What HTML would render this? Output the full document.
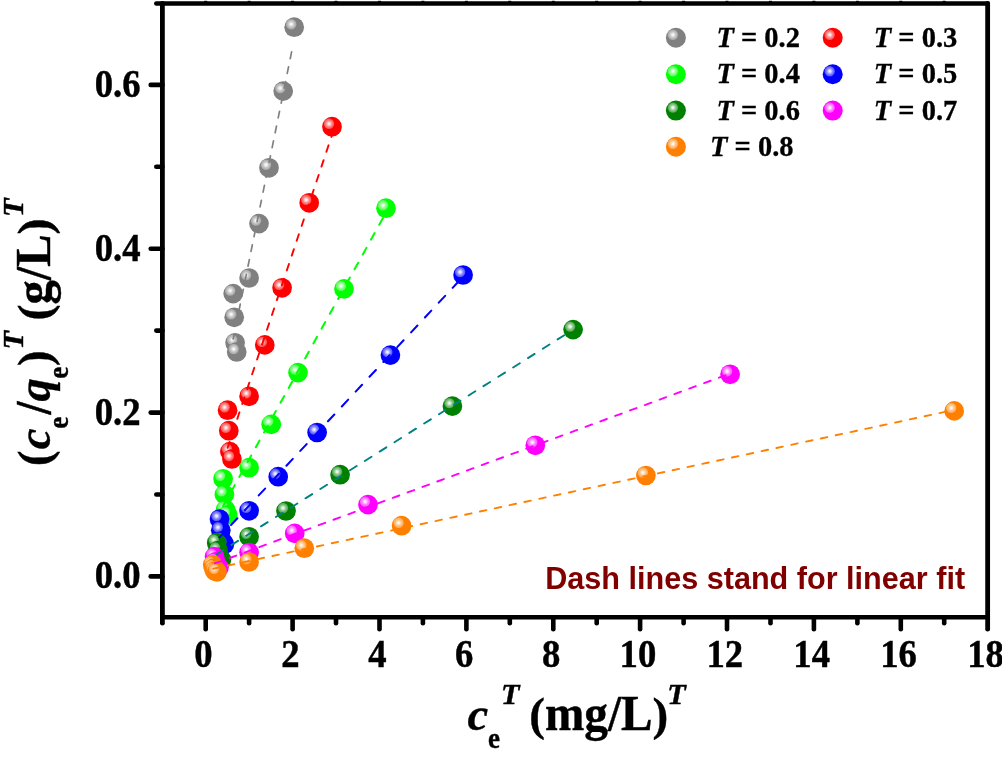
<!DOCTYPE html>
<html lang="en"><head><meta charset="utf-8"><title>Linear fit plot</title>
<style>html,body{margin:0;padding:0;background:#fff;}body{width:1002px;height:757px;overflow:hidden;}svg{display:block;}text{font-family:"Liberation Serif",serif;font-weight:bold;fill:#000;}.it{font-style:italic;}.note{font-family:"Liberation Sans",sans-serif;font-weight:bold;fill:#800000;}</style>
</head><body>
<svg width="1002" height="757" viewBox="0 0 1002 757">
<defs><radialGradient id="hl" cx="0.5" cy="0.5" r="0.5"><stop offset="0" stop-color="#fff" stop-opacity="1"/><stop offset="0.18" stop-color="#fff" stop-opacity="0.9"/><stop offset="0.6" stop-color="#fff" stop-opacity="0.52"/><stop offset="1" stop-color="#fff" stop-opacity="0.30"/></radialGradient></defs>
<rect x="0" y="0" width="1002" height="757" fill="#fff"/>
<g id="pts">
<circle cx="294.2" cy="27.2" r="9.85" fill="#808080"/><circle cx="291.2" cy="24.2" r="5.2" fill="url(#hl)"/>
<circle cx="283.2" cy="91.1" r="9.85" fill="#808080"/><circle cx="280.2" cy="88.1" r="5.2" fill="url(#hl)"/>
<circle cx="269.0" cy="167.8" r="9.85" fill="#808080"/><circle cx="266.0" cy="164.8" r="5.2" fill="url(#hl)"/>
<circle cx="259.0" cy="223.6" r="9.85" fill="#808080"/><circle cx="256.0" cy="220.6" r="5.2" fill="url(#hl)"/>
<circle cx="249.1" cy="278.0" r="9.85" fill="#808080"/><circle cx="246.1" cy="275.0" r="5.2" fill="url(#hl)"/>
<circle cx="233.2" cy="293.6" r="9.85" fill="#808080"/><circle cx="230.2" cy="290.6" r="5.2" fill="url(#hl)"/>
<circle cx="234.2" cy="317.3" r="9.85" fill="#808080"/><circle cx="231.2" cy="314.3" r="5.2" fill="url(#hl)"/>
<circle cx="235.1" cy="342.8" r="9.85" fill="#808080"/><circle cx="232.1" cy="339.8" r="5.2" fill="url(#hl)"/>
<circle cx="236.7" cy="352.0" r="9.85" fill="#808080"/><circle cx="233.7" cy="349.0" r="5.2" fill="url(#hl)"/>
<circle cx="332.0" cy="126.7" r="9.85" fill="#ff0000"/><circle cx="329.0" cy="123.7" r="5.2" fill="url(#hl)"/>
<circle cx="309.2" cy="202.8" r="9.85" fill="#ff0000"/><circle cx="306.2" cy="199.8" r="5.2" fill="url(#hl)"/>
<circle cx="282.1" cy="287.8" r="9.85" fill="#ff0000"/><circle cx="279.1" cy="284.8" r="5.2" fill="url(#hl)"/>
<circle cx="264.8" cy="344.9" r="9.85" fill="#ff0000"/><circle cx="261.8" cy="341.9" r="5.2" fill="url(#hl)"/>
<circle cx="249.1" cy="396.3" r="9.85" fill="#ff0000"/><circle cx="246.1" cy="393.3" r="5.2" fill="url(#hl)"/>
<circle cx="227.6" cy="410.2" r="9.85" fill="#ff0000"/><circle cx="224.6" cy="407.2" r="5.2" fill="url(#hl)"/>
<circle cx="228.8" cy="430.7" r="9.85" fill="#ff0000"/><circle cx="225.8" cy="427.7" r="5.2" fill="url(#hl)"/>
<circle cx="229.9" cy="451.6" r="9.85" fill="#ff0000"/><circle cx="226.9" cy="448.6" r="5.2" fill="url(#hl)"/>
<circle cx="231.9" cy="459.0" r="9.85" fill="#ff0000"/><circle cx="228.9" cy="456.0" r="5.2" fill="url(#hl)"/>
<circle cx="386.0" cy="208.2" r="9.85" fill="#00ff00"/><circle cx="383.0" cy="205.2" r="5.2" fill="url(#hl)"/>
<circle cx="344.0" cy="288.9" r="9.85" fill="#00ff00"/><circle cx="341.0" cy="285.9" r="5.2" fill="url(#hl)"/>
<circle cx="298.0" cy="372.6" r="9.85" fill="#00ff00"/><circle cx="295.0" cy="369.6" r="5.2" fill="url(#hl)"/>
<circle cx="271.2" cy="424.4" r="9.85" fill="#00ff00"/><circle cx="268.2" cy="421.4" r="5.2" fill="url(#hl)"/>
<circle cx="249.1" cy="467.7" r="9.85" fill="#00ff00"/><circle cx="246.1" cy="464.7" r="5.2" fill="url(#hl)"/>
<circle cx="223.1" cy="478.8" r="9.85" fill="#00ff00"/><circle cx="220.1" cy="475.8" r="5.2" fill="url(#hl)"/>
<circle cx="224.4" cy="494.4" r="9.85" fill="#00ff00"/><circle cx="221.4" cy="491.4" r="5.2" fill="url(#hl)"/>
<circle cx="225.6" cy="509.8" r="9.85" fill="#00ff00"/><circle cx="222.6" cy="506.8" r="5.2" fill="url(#hl)"/>
<circle cx="227.8" cy="514.9" r="9.85" fill="#00ff00"/><circle cx="224.8" cy="511.9" r="5.2" fill="url(#hl)"/>
<circle cx="463.1" cy="275.0" r="9.85" fill="#0000ff"/><circle cx="460.1" cy="272.0" r="5.2" fill="url(#hl)"/>
<circle cx="390.4" cy="355.1" r="9.85" fill="#0000ff"/><circle cx="387.4" cy="352.1" r="5.2" fill="url(#hl)"/>
<circle cx="317.1" cy="432.5" r="9.85" fill="#0000ff"/><circle cx="314.1" cy="429.5" r="5.2" fill="url(#hl)"/>
<circle cx="278.2" cy="476.7" r="9.85" fill="#0000ff"/><circle cx="275.2" cy="473.7" r="5.2" fill="url(#hl)"/>
<circle cx="249.1" cy="510.8" r="9.85" fill="#0000ff"/><circle cx="246.1" cy="507.8" r="5.2" fill="url(#hl)"/>
<circle cx="219.5" cy="519.0" r="9.85" fill="#0000ff"/><circle cx="216.5" cy="516.0" r="5.2" fill="url(#hl)"/>
<circle cx="220.8" cy="530.3" r="9.85" fill="#0000ff"/><circle cx="217.8" cy="527.3" r="5.2" fill="url(#hl)"/>
<circle cx="222.1" cy="540.8" r="9.85" fill="#0000ff"/><circle cx="219.1" cy="537.8" r="5.2" fill="url(#hl)"/>
<circle cx="224.4" cy="544.2" r="9.85" fill="#0000ff"/><circle cx="221.4" cy="541.2" r="5.2" fill="url(#hl)"/>
<circle cx="573.1" cy="329.6" r="9.85" fill="#008000"/><circle cx="570.1" cy="326.6" r="5.2" fill="url(#hl)"/>
<circle cx="452.4" cy="406.1" r="9.85" fill="#008000"/><circle cx="449.4" cy="403.1" r="5.2" fill="url(#hl)"/>
<circle cx="340.1" cy="474.7" r="9.85" fill="#008000"/><circle cx="337.1" cy="471.7" r="5.2" fill="url(#hl)"/>
<circle cx="286.0" cy="511.0" r="9.85" fill="#008000"/><circle cx="283.0" cy="508.0" r="5.2" fill="url(#hl)"/>
<circle cx="249.1" cy="536.8" r="9.85" fill="#008000"/><circle cx="246.1" cy="533.8" r="5.2" fill="url(#hl)"/>
<circle cx="216.7" cy="542.7" r="9.85" fill="#008000"/><circle cx="213.7" cy="539.7" r="5.2" fill="url(#hl)"/>
<circle cx="218.0" cy="550.5" r="9.85" fill="#008000"/><circle cx="215.0" cy="547.5" r="5.2" fill="url(#hl)"/>
<circle cx="219.2" cy="557.4" r="9.85" fill="#008000"/><circle cx="216.2" cy="554.4" r="5.2" fill="url(#hl)"/>
<circle cx="221.5" cy="559.6" r="9.85" fill="#008000"/><circle cx="218.5" cy="556.6" r="5.2" fill="url(#hl)"/>
<circle cx="730.1" cy="374.3" r="9.85" fill="#ff00ff"/><circle cx="727.1" cy="371.3" r="5.2" fill="url(#hl)"/>
<circle cx="535.3" cy="445.3" r="9.85" fill="#ff00ff"/><circle cx="532.3" cy="442.3" r="5.2" fill="url(#hl)"/>
<circle cx="368.0" cy="504.6" r="9.85" fill="#ff00ff"/><circle cx="365.0" cy="501.6" r="5.2" fill="url(#hl)"/>
<circle cx="294.7" cy="533.4" r="9.85" fill="#ff00ff"/><circle cx="291.7" cy="530.4" r="5.2" fill="url(#hl)"/>
<circle cx="249.1" cy="552.5" r="9.85" fill="#ff00ff"/><circle cx="246.1" cy="549.5" r="5.2" fill="url(#hl)"/>
<circle cx="214.5" cy="556.6" r="9.85" fill="#ff00ff"/><circle cx="211.5" cy="553.6" r="5.2" fill="url(#hl)"/>
<circle cx="215.6" cy="561.8" r="9.85" fill="#ff00ff"/><circle cx="212.6" cy="558.8" r="5.2" fill="url(#hl)"/>
<circle cx="216.8" cy="566.3" r="9.85" fill="#ff00ff"/><circle cx="213.8" cy="563.3" r="5.2" fill="url(#hl)"/>
<circle cx="219.0" cy="567.6" r="9.85" fill="#ff00ff"/><circle cx="216.0" cy="564.6" r="5.2" fill="url(#hl)"/>
<circle cx="954.2" cy="410.9" r="9.85" fill="#ff8000"/><circle cx="951.2" cy="407.9" r="5.2" fill="url(#hl)"/>
<circle cx="645.9" cy="475.5" r="9.85" fill="#ff8000"/><circle cx="642.9" cy="472.5" r="5.2" fill="url(#hl)"/>
<circle cx="401.6" cy="525.7" r="9.85" fill="#ff8000"/><circle cx="398.6" cy="522.7" r="5.2" fill="url(#hl)"/>
<circle cx="304.3" cy="548.2" r="9.85" fill="#ff8000"/><circle cx="301.3" cy="545.2" r="5.2" fill="url(#hl)"/>
<circle cx="249.1" cy="562.0" r="9.85" fill="#ff8000"/><circle cx="246.1" cy="559.0" r="5.2" fill="url(#hl)"/>
<circle cx="212.7" cy="564.8" r="9.85" fill="#ff8000"/><circle cx="209.7" cy="561.8" r="5.2" fill="url(#hl)"/>
<circle cx="213.7" cy="568.2" r="9.85" fill="#ff8000"/><circle cx="210.7" cy="565.2" r="5.2" fill="url(#hl)"/>
<circle cx="214.8" cy="571.0" r="9.85" fill="#ff8000"/><circle cx="211.8" cy="568.0" r="5.2" fill="url(#hl)"/>
<circle cx="217.0" cy="571.8" r="9.85" fill="#ff8000"/><circle cx="214.0" cy="568.8" r="5.2" fill="url(#hl)"/>
</g>
<g id="fits" fill="none" stroke-linecap="round">
<line x1="291.6" y1="51.9" x2="233.2" y2="339.0" stroke="#808080" stroke-width="1.7" stroke-dasharray="6.78 8.36" stroke-dashoffset="15.13"/>
<line x1="332.0" y1="135.0" x2="227.6" y2="447.8" stroke="#ff0000" stroke-width="1.9" stroke-dasharray="6.86 8.78" stroke-dashoffset="4.80"/>
<line x1="386.0" y1="212.6" x2="223.1" y2="506.1" stroke="#00ff00" stroke-width="2.0" stroke-dasharray="7.50 9.46" stroke-dashoffset="10.53"/>
<line x1="463.1" y1="276.6" x2="219.5" y2="537.4" stroke="#0000ff" stroke-width="2.0" stroke-dasharray="9.36 10.93" stroke-dashoffset="14.28"/>
<line x1="564.3" y1="335.2" x2="216.7" y2="554.3" stroke="#008080" stroke-width="1.9" stroke-dasharray="7.92 9.61" stroke-dashoffset="0.00"/>
<line x1="730.1" y1="373.6" x2="214.5" y2="563.6" stroke="#ff00ff" stroke-width="1.9" stroke-dasharray="6.95 8.85" stroke-dashoffset="10.88"/>
<line x1="954.2" y1="409.9" x2="212.7" y2="568.8" stroke="#ff8000" stroke-width="1.9" stroke-dasharray="6.59 8.57" stroke-dashoffset="6.69"/>
</g>
<g id="axes" stroke="#000" fill="none" stroke-linecap="round">
<line x1="156.3" y1="3.5" x2="987.65" y2="3.5" stroke-width="4.5"/>
<line x1="162.4" y1="3.5" x2="162.4" y2="623.2" stroke-width="4.8"/>
<line x1="987.65" y1="3.5" x2="987.65" y2="629.2" stroke-width="4.8"/>
<line x1="162.4" y1="617.3" x2="987.65" y2="617.3" stroke-width="4.5" stroke-linecap="butt"/>
<line x1="205.7" y1="617.3" x2="205.7" y2="629.2" stroke-width="4.6"/>
<line x1="205.7" y1="3.5" x2="205.7" y2="0.8" stroke-width="3.0" stroke-linecap="butt"/>
<line x1="249.1" y1="617.3" x2="249.1" y2="623.2" stroke-width="4.6"/>
<line x1="249.1" y1="3.5" x2="249.1" y2="0.8" stroke-width="3.0" stroke-linecap="butt"/>
<line x1="292.6" y1="617.3" x2="292.6" y2="629.2" stroke-width="4.6"/>
<line x1="292.6" y1="3.5" x2="292.6" y2="0.8" stroke-width="3.0" stroke-linecap="butt"/>
<line x1="336.0" y1="617.3" x2="336.0" y2="623.2" stroke-width="4.6"/>
<line x1="336.0" y1="3.5" x2="336.0" y2="0.8" stroke-width="3.0" stroke-linecap="butt"/>
<line x1="379.5" y1="617.3" x2="379.5" y2="629.2" stroke-width="4.6"/>
<line x1="379.5" y1="3.5" x2="379.5" y2="0.8" stroke-width="3.0" stroke-linecap="butt"/>
<line x1="422.9" y1="617.3" x2="422.9" y2="623.2" stroke-width="4.6"/>
<line x1="422.9" y1="3.5" x2="422.9" y2="0.8" stroke-width="3.0" stroke-linecap="butt"/>
<line x1="466.4" y1="617.3" x2="466.4" y2="629.2" stroke-width="4.6"/>
<line x1="466.4" y1="3.5" x2="466.4" y2="0.8" stroke-width="3.0" stroke-linecap="butt"/>
<line x1="509.8" y1="617.3" x2="509.8" y2="623.2" stroke-width="4.6"/>
<line x1="509.8" y1="3.5" x2="509.8" y2="0.8" stroke-width="3.0" stroke-linecap="butt"/>
<line x1="553.3" y1="617.3" x2="553.3" y2="629.2" stroke-width="4.6"/>
<line x1="553.3" y1="3.5" x2="553.3" y2="0.8" stroke-width="3.0" stroke-linecap="butt"/>
<line x1="596.7" y1="617.3" x2="596.7" y2="623.2" stroke-width="4.6"/>
<line x1="596.7" y1="3.5" x2="596.7" y2="0.8" stroke-width="3.0" stroke-linecap="butt"/>
<line x1="640.1" y1="617.3" x2="640.1" y2="629.2" stroke-width="4.6"/>
<line x1="640.1" y1="3.5" x2="640.1" y2="0.8" stroke-width="3.0" stroke-linecap="butt"/>
<line x1="683.6" y1="617.3" x2="683.6" y2="623.2" stroke-width="4.6"/>
<line x1="683.6" y1="3.5" x2="683.6" y2="0.8" stroke-width="3.0" stroke-linecap="butt"/>
<line x1="727.0" y1="617.3" x2="727.0" y2="629.2" stroke-width="4.6"/>
<line x1="727.0" y1="3.5" x2="727.0" y2="0.8" stroke-width="3.0" stroke-linecap="butt"/>
<line x1="770.5" y1="617.3" x2="770.5" y2="623.2" stroke-width="4.6"/>
<line x1="770.5" y1="3.5" x2="770.5" y2="0.8" stroke-width="3.0" stroke-linecap="butt"/>
<line x1="813.9" y1="617.3" x2="813.9" y2="629.2" stroke-width="4.6"/>
<line x1="813.9" y1="3.5" x2="813.9" y2="0.8" stroke-width="3.0" stroke-linecap="butt"/>
<line x1="857.4" y1="617.3" x2="857.4" y2="623.2" stroke-width="4.6"/>
<line x1="857.4" y1="3.5" x2="857.4" y2="0.8" stroke-width="3.0" stroke-linecap="butt"/>
<line x1="900.8" y1="617.3" x2="900.8" y2="629.2" stroke-width="4.6"/>
<line x1="900.8" y1="3.5" x2="900.8" y2="0.8" stroke-width="3.0" stroke-linecap="butt"/>
<line x1="944.2" y1="617.3" x2="944.2" y2="623.2" stroke-width="4.6"/>
<line x1="944.2" y1="3.5" x2="944.2" y2="0.8" stroke-width="3.0" stroke-linecap="butt"/>
<line x1="162.4" y1="576.4" x2="150.7" y2="576.4" stroke-width="4.6"/>
<line x1="162.4" y1="494.5" x2="156.3" y2="494.5" stroke-width="4.6"/>
<line x1="162.4" y1="412.6" x2="150.7" y2="412.6" stroke-width="4.6"/>
<line x1="162.4" y1="330.6" x2="156.3" y2="330.6" stroke-width="4.6"/>
<line x1="162.4" y1="248.7" x2="150.7" y2="248.7" stroke-width="4.6"/>
<line x1="162.4" y1="166.8" x2="156.3" y2="166.8" stroke-width="4.6"/>
<line x1="162.4" y1="84.9" x2="150.7" y2="84.9" stroke-width="4.6"/>
</g>
<g id="xlabels" stroke="#000" stroke-width="0.4">
<text transform="translate(203.5,666.5) scale(1.0,1.07)" font-size="36.7" text-anchor="middle">0</text>
<text transform="translate(290.4,666.5) scale(1.0,1.07)" font-size="36.7" text-anchor="middle">2</text>
<text transform="translate(377.3,666.5) scale(1.0,1.07)" font-size="36.7" text-anchor="middle">4</text>
<text transform="translate(464.2,666.5) scale(1.0,1.07)" font-size="36.7" text-anchor="middle">6</text>
<text transform="translate(551.1,666.5) scale(1.0,1.07)" font-size="36.7" text-anchor="middle">8</text>
<text transform="translate(637.9,666.5) scale(1.0,1.07)" font-size="36.7" text-anchor="middle">10</text>
<text transform="translate(724.8,666.5) scale(1.0,1.07)" font-size="36.7" text-anchor="middle">12</text>
<text transform="translate(811.7,666.5) scale(1.0,1.07)" font-size="36.7" text-anchor="middle">14</text>
<text transform="translate(898.6,666.5) scale(1.0,1.07)" font-size="36.7" text-anchor="middle">16</text>
<text transform="translate(985.5,666.5) scale(1.0,1.07)" font-size="36.7" text-anchor="middle">18</text>
</g>
<g id="ylabels" stroke="#000" stroke-width="0.4">
<text transform="translate(140.6,588.4) scale(1.0,1.07)" font-size="36.7" text-anchor="end">0.0</text>
<text transform="translate(140.6,424.6) scale(1.0,1.07)" font-size="36.7" text-anchor="end">0.2</text>
<text transform="translate(140.6,260.7) scale(1.0,1.07)" font-size="36.7" text-anchor="end">0.4</text>
<text transform="translate(140.6,96.9) scale(1.0,1.07)" font-size="36.7" text-anchor="end">0.6</text>
</g>
<g id="xtitle" stroke="#000" stroke-width="0.4">
<text transform="translate(467.5,730.3) scale(1.0,1.0)" font-size="46.5" class="it">c</text>
<text transform="translate(488.0,748.3) scale(1.0,1.07)" font-size="27">e</text>
<text transform="translate(501.0,704.0) scale(1.08,1.07)" font-size="28" class="it">T</text>
<text transform="translate(529.3,730.3) scale(1.015,0.98)" font-size="46.5">(</text>
<text transform="translate(545.0,730.3) scale(1.015,1.07)" font-size="46.5">mg/L</text>
<text transform="translate(652.5,730.3) scale(1.015,0.98)" font-size="46.5">)</text>
<text transform="translate(667.2,704.0) scale(1.08,1.07)" font-size="28" class="it">T</text>
</g>
<g id="ytitle" transform="translate(49.7,466) rotate(-90)" stroke="#000" stroke-width="0.4">
<text transform="translate(0.0,0.0) scale(1.0,0.98)" font-size="46.5">(</text>
<text transform="translate(16.8,0.0) scale(1.0,1.0)" font-size="46.5" class="it">c</text>
<text transform="translate(37.2,18.5) scale(1.0,1.07)" font-size="27">e</text>
<text transform="translate(51.5,0.0) scale(1.0,1.07)" font-size="46.5">/</text>
<text transform="translate(64.4,0.0) scale(1.0,1.0)" font-size="46.5" class="it">q</text>
<text transform="translate(87.2,18.5) scale(1.0,1.07)" font-size="27">e</text>
<text transform="translate(100.0,0.0) scale(1.0,0.98)" font-size="46.5">)</text>
<text transform="translate(116.5,-26.3) scale(1.08,1.07)" font-size="28" class="it">T</text>
<text transform="translate(145.5,0.0) scale(1.04,0.98)" font-size="46.5">(</text>
<text transform="translate(161.6,0.0) scale(1.04,1.07)" font-size="46.5">g/L</text>
<text transform="translate(231.5,0.0) scale(1.04,0.98)" font-size="46.5">)</text>
<text transform="translate(249.0,-26.3) scale(1.08,1.07)" font-size="28" class="it">T</text>
</g>
<g id="legend" stroke="#000" stroke-width="0.3">
<circle stroke="none" cx="675.9" cy="37.8" r="10.0" fill="#808080"/><circle stroke="none" cx="672.9" cy="34.8" r="5.2" fill="url(#hl)"/>
<text transform="translate(716.4,46.8) scale(1.0,1.07)" font-size="28.5"><tspan class="it">T</tspan> = 0.2</text>
<circle stroke="none" cx="832.7" cy="37.8" r="10.0" fill="#ff0000"/><circle stroke="none" cx="829.7" cy="34.8" r="5.2" fill="url(#hl)"/>
<text transform="translate(873.8,46.8) scale(1.0,1.07)" font-size="28.5"><tspan class="it">T</tspan> = 0.3</text>
<circle stroke="none" cx="675.9" cy="74.2" r="10.0" fill="#00ff00"/><circle stroke="none" cx="672.9" cy="71.2" r="5.2" fill="url(#hl)"/>
<text transform="translate(716.4,83.3) scale(1.0,1.07)" font-size="28.5"><tspan class="it">T</tspan> = 0.4</text>
<circle stroke="none" cx="832.7" cy="74.2" r="10.0" fill="#0000ff"/><circle stroke="none" cx="829.7" cy="71.2" r="5.2" fill="url(#hl)"/>
<text transform="translate(873.8,83.3) scale(1.0,1.07)" font-size="28.5"><tspan class="it">T</tspan> = 0.5</text>
<circle stroke="none" cx="675.9" cy="110.6" r="10.0" fill="#008000"/><circle stroke="none" cx="672.9" cy="107.6" r="5.2" fill="url(#hl)"/>
<text transform="translate(716.4,119.8) scale(1.0,1.07)" font-size="28.5"><tspan class="it">T</tspan> = 0.6</text>
<circle stroke="none" cx="832.7" cy="110.6" r="10.0" fill="#ff00ff"/><circle stroke="none" cx="829.7" cy="107.6" r="5.2" fill="url(#hl)"/>
<text transform="translate(873.8,119.8) scale(1.0,1.07)" font-size="28.5"><tspan class="it">T</tspan> = 0.7</text>
<circle stroke="none" cx="675.9" cy="146.8" r="10.0" fill="#ff8000"/><circle stroke="none" cx="672.9" cy="143.8" r="5.2" fill="url(#hl)"/>
<text transform="translate(710.0,156.2) scale(1.0,1.07)" font-size="28.5"><tspan class="it">T</tspan> = 0.8</text>
</g>
<text class="note" x="545.2" y="589.3" font-size="30.6">Dash lines stand for linear fit</text>
</svg></body></html>
